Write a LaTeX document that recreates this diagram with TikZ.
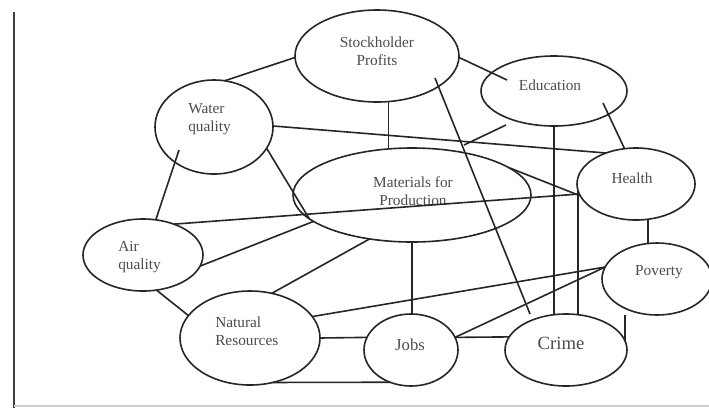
\documentclass[tikz,border=0pt]{standalone}
\usepackage{fontspec}
\setmainfont{Liberation Serif}
\usetikzlibrary{shapes.geometric,calc}

\tikzset{
  % ellipse given by its half axes in pixels (1px = 0.75pt)
  bubble/.style 2 args={ellipse, draw=black!85, line width=1.2pt,
    inner sep=0pt, outer sep=0pt,
    minimum width=#1*1.5pt, minimum height=#2*1.5pt},
  link/.style={draw=black!85, line width=1.2pt},
  caption/.style={text=black!70, inner sep=0pt,
    font=\fontsize{11.5pt}{13.5pt}\selectfont},
  leftcaption/.style={caption, align=left, anchor=west},
  midcaption/.style={caption, align=center}
}

\begin{document}
\begin{tikzpicture}[x=0.75pt, y=-0.75pt]
  \fill[white] (0,0) rectangle (709,408);
  \useasboundingbox (0,0) rectangle (709,408);

  % page rule on the left and faint bottom edge
  \draw[black!75, line width=1.4pt] (14,12) -- (14,408);
  \draw[black!20, line width=0.8pt] (14,406) -- (709,406);

  % the issues
  \node[bubble={82}{46}]  (stock)   at (377,56)  {};
  \node[bubble={59}{47}]  (water)   at (214,127) {};
  \node[bubble={73}{35}]  (edu)     at (554,91)  {};
  \node[bubble={59}{36}]  (health)  at (636,184) {};
  \node[bubble={119}{47}] (mat)     at (412,195) {};
  \node[bubble={60}{36}]  (air)     at (143,255) {};
  \node[bubble={70}{47}]  (natres)  at (250,338) {};
  \node[bubble={47}{36}]  (jobs)    at (411,350) {};
  \node[bubble={61}{36}]  (crime)   at (566,350) {};
  \node[bubble={55}{36}]  (poverty) at (657,279) {};

  % their labels
  \node[midcaption]  (tstock)   at (377,51)  {Stockholder\\Profits};
  \node[leftcaption] (twater)   at (188,119) {Water\\quality};
  \node[midcaption]  (tedu)     at (550,85)  {Education};
  \node[midcaption]  (thealth)  at (632,178) {Health};
  \node[midcaption]  (tmat)     at (413,191) {Materials for\\Production};
  \node[leftcaption] (tair)     at (118,257) {Air\\quality};
  \node[leftcaption] (tnatres)  at (215,331) {Natural\\Resources};
  \node[midcaption, font=\fontsize{12.5pt}{14pt}\selectfont] (tjobs) at (410,345) {Jobs};
  \node[midcaption, font=\fontsize{14pt}{16pt}\selectfont] (tcrime) at (561,343) {Crime};
  \node[midcaption]  (tpoverty) at (659,272) {Poverty};

  % links between the issues
  \draw[link] (water.77) -- (stock.181);
  \draw[link] (stock.-1) -- ($(edu)+(-47,-11)$);
  \draw[link] (water.1) -- (health.134);
  \draw[link] (water.-22) -- (mat.193);
  \draw[link] ($(water)+(-35,23)$) -- (air.70);
  \draw[link] (stock.-76) -- (stock.-76 |- mat.north);
  \draw[link] ($(stock)+(58,22)$) -- ($(crime)+(-36,-36)$);
  \draw[link] ($(edu)+(-48,34)$) -- ($(mat)+(52,-50)$);
  \draw[link] ($(edu)+(49,12)$) -- (health.108);
  \draw[link] (edu.south) -- (edu.south |- crime.north);
  \draw[link] (health.187) -- (health.187 |- crime.north);
  \draw[link] (mat.16) -- (health.192);
  \draw[link] (air.45) -- (health.190);
  \draw[link] (air.-11) -- (mat.195);
  \draw[link] (air.-69) -- (natres.160);
  \draw[link] (natres.64) -- (mat.226);
  \draw[link] (natres.19) -- (poverty.167);
  \draw[link] (natres.east) -- (jobs.164);
  \draw[link] (natres.-63) -- (jobs.237);
  \draw[link] (mat.south) -- (mat.south |- jobs.north);
  \draw[link] (jobs.16) -- (crime.167);
  \draw[link] (jobs.16) -- (poverty.167);
  \draw[link] (crime.9) -- (crime.9 |- poverty.south);
  \draw[link] (health.-71) -- (health.-71 |- poverty.north);
\end{tikzpicture}
\end{document}
